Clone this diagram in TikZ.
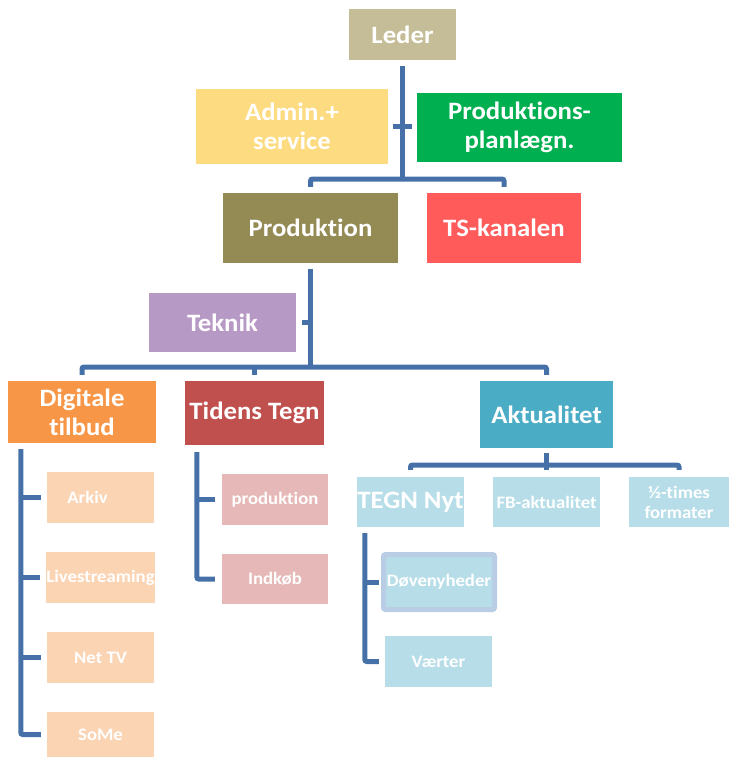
\documentclass[tikz,border=0pt]{standalone}
\usepackage{fontspec}
\setmainfont{Carlito}[FakeStretch=1.07, Ligatures=NoCommon]
\definecolor{ledercol}{HTML}{C4BD97}
\definecolor{admincol}{HTML}{FDDB80}
\definecolor{plancol}{HTML}{00B050}
\definecolor{prodcol}{HTML}{948A54}
\definecolor{tscol}{HTML}{FF5B5B}
\definecolor{teknikcol}{HTML}{B799C6}
\definecolor{digcol}{HTML}{F79646}
\definecolor{tidenscol}{HTML}{C0504D}
\definecolor{aktcol}{HTML}{4BACC6}
\definecolor{aktsub}{HTML}{B7DEE8}
\definecolor{digsub}{HTML}{FBD4B4}
\definecolor{tidenssub}{HTML}{E6B9B8}
\definecolor{dovrim}{HTML}{B9CDE5}
\definecolor{linkblue}{HTML}{4671A8}
\begin{document}
\begin{tikzpicture}[x=1pt,y=-1pt,
    box/.style={rectangle, inner sep=0pt, text=white, align=center,
      font=\bfseries\fontsize{25}{29}\selectfont},
    smallbox/.style={box, font=\bfseries\fontsize{17.5}{20}\selectfont},
    sz/.style 2 args={minimum width=#1pt, minimum height=#2pt},
    conn/.style={draw=linkblue, line width=5pt, rounded corners=2pt}]
  \useasboundingbox (0,0) rectangle (729,758);
  \node[box, fill=ledercol, sz={107}{51}] (leder) at (402.5,34.5) {Leder};
  \node[box, fill=admincol, sz={192}{75}] (admin) at (292,126.5) {Admin.+\\service};
  \node[box, fill=plancol, sz={205}{69}] (plan) at (519.5,127.5) {Produktions-\\planlægn.};
  \node[box, fill=prodcol, sz={175}{70}] (prod) at (310.5,228) {Produktion};
  \node[box, fill=tscol, sz={154}{70}] (ts) at (504,228) {TS-kanalen};
  \node[box, fill=teknikcol, sz={147}{59}] (teknik) at (222.5,322.5) {Teknik};
  \node[box, fill=digcol, sz={148}{62}] (dig) at (82,412) {Digitale\\tilbud};
  \node[box, fill=tidenscol, sz={139}{64}] (tidens) at (254.5,413) {Tidens Tegn};
  \node[box, fill=aktcol, sz={133}{67}] (akt) at (546.5,414.5) {Aktualitet};
  \node[box, fill=aktsub, sz={107}{50}] (tegn) at (410.5,502) {TEGN Nyt};
  \node[smallbox, fill=aktsub, sz={107}{50}] (fb) at (546.5,502) {FB-aktualitet};
  \node[smallbox, fill=aktsub, sz={100}{50}] (half) at (679,502) {½-times\\formater};
  \node[smallbox, fill=aktsub, draw=dovrim, line width=5pt, rounded corners=2pt, sz={111}{55}] (dov) at (439,582) {Døvenyheder};
  \node[smallbox, fill=aktsub, sz={107}{51}] (vaert) at (438.5,661.5) {Værter};
  \node[smallbox, fill=digsub, sz={107}{51}] (arkiv) at (100.5,497.5) {Arkiv\hspace*{26pt}};
  \node[smallbox, fill=digsub, sz={107}{51}] (live) at (100.5,577.5) {Livestreaming};
  \node[smallbox, fill=digsub, sz={107}{51}] (nettv) at (100.5,657.5) {Net TV};
  \node[smallbox, fill=digsub, sz={107}{45}] (some) at (100.5,734.5) {SoMe};
  \node[smallbox, fill=tidenssub, sz={106}{51}] (tprod) at (275,499.5) {produktion};
  \node[smallbox, fill=tidenssub, sz={106}{50}] (indkob) at (275,579) {Indkøb};

  \coordinate (b1) at (402.5,179);
  \draw[conn] ([yshift=-6pt]leder.south) -- (b1);
  \draw[conn] ([yshift=6pt]prod.north) |- (b1) -| ([yshift=6pt]ts.north);
  \draw[conn] ([xshift=5pt]admin.east) -- ([xshift=-5pt]plan.west |- admin.east);

  \coordinate (b2) at (310.5,367);
  \draw[conn] ([yshift=-6pt]prod.south) -- (b2);
  \draw[conn] ([yshift=6pt]dig.north) |- (b2) -| ([yshift=6pt]akt.north);
  \draw[conn] ([yshift=6pt]tidens.north) -- (tidens.north |- b2);
  \draw[conn] ([xshift=6pt]teknik.east) -- (teknik.east -| b2);

  \coordinate (b3) at (546.5,465);
  \draw[conn] ([yshift=-5pt]akt.south) -- (b3);
  \draw[conn] ([yshift=7pt]tegn.north) |- (b3) -| ([yshift=7pt]half.north);
  \draw[conn] ([yshift=7pt]fb.north) -- (fb.north |- b3);

  \coordinate (dbus) at ([shift={(13pt,-6pt)}]dig.south west);
  \foreach \n in {arkiv,live,nettv}
    \draw[conn] ([xshift=-6pt]\n.west) -- (\n.west -| dbus);
  \draw[conn] (dbus) |- ([xshift=-6pt]some.west);

  \coordinate (tbus) at ([shift={(12pt,-7pt)}]tidens.south west);
  \draw[conn] ([xshift=-7pt]tprod.west) -- (tprod.west -| tbus);
  \draw[conn] (tbus) |- ([xshift=-7pt]indkob.west);

  \coordinate (nbus) at ([shift={(8pt,-6pt)}]tegn.south west);
  \draw[conn] ([xshift=-2.5pt]dov.west) -- (dov.west -| nbus);
  \draw[conn] (nbus) |- ([xshift=-6pt]vaert.west);
\end{tikzpicture}
\end{document}
